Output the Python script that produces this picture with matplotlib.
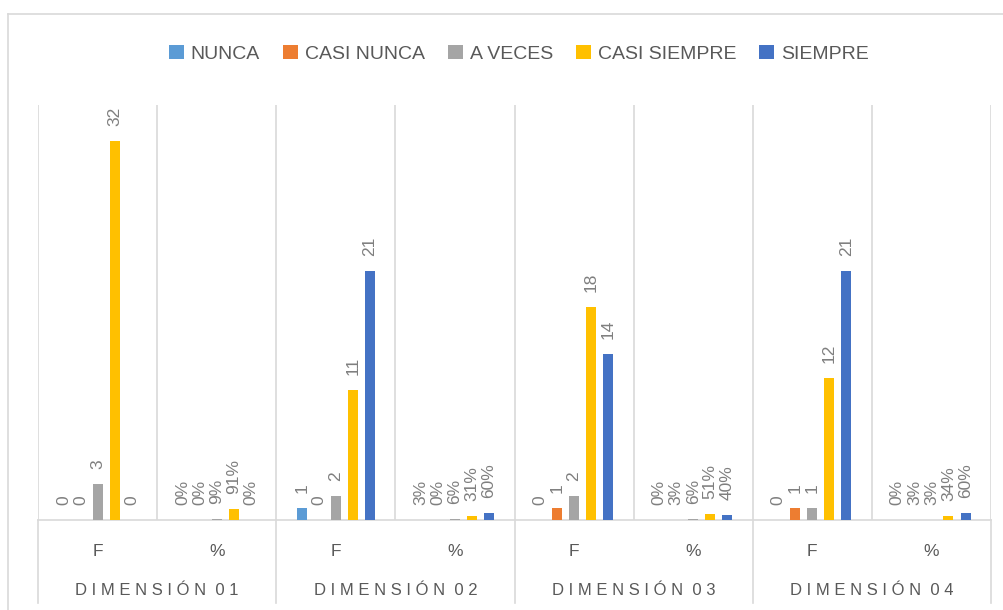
import numpy as np
import matplotlib
matplotlib.use("Agg")
import matplotlib.pyplot as plt
from matplotlib.lines import Line2D
from matplotlib.patches import Patch

plt.rcParams["font.family"] = "Liberation Sans"

# Chart data
categories = ["F", "%", "F", "%", "F", "%", "F", "%"]
dimensions = ["DIMENSIÓN 01", "DIMENSIÓN 02", "DIMENSIÓN 03", "DIMENSIÓN 04"]
series_names = ["NUNCA", "CASI NUNCA", "A VECES", "CASI SIEMPRE", "SIEMPRE"]
nunca = [0, 0.00, 1, 0.03, 0, 0.00, 0, 0.00]
casi_nunca = [0, 0.00, 0, 0.00, 1, 0.03, 1, 0.03]
a_veces = [3, 0.09, 2, 0.06, 2, 0.06, 1, 0.03]
casi_siempre = [32, 0.91, 11, 0.31, 18, 0.51, 12, 0.34]
siempre = [0, 0.00, 21, 0.60, 14, 0.40, 21, 0.60]

colors = ["#5B9BD5", "#ED7D31", "#A5A5A5", "#FFC000", "#4472C4"]
grid_col = "#D9D9D9"
label_col = "#7F7F7F"
text_col = "#595959"


def spaced(s):
    # Excel-style letter spacing for the outer axis labels
    return " ".join(s).replace("   ", "  ")


def main():
    fig = plt.figure(figsize=(10.04, 6.10), dpi=100)
    ax = fig.add_axes([38 / 1004, 1 - 520 / 610, (991 - 38) / 1004, (520 - 105) / 610])

    all_series = [nunca, casi_nunca, a_veces, casi_siempre, siempre]
    x = np.arange(len(categories))
    pitch = 0.143
    width = 0.084
    for i, (vals, col) in enumerate(zip(all_series, colors)):
        pos = x + (i - 2) * pitch
        ax.bar(pos, vals, width=width, color=col, zorder=3)
        for px, v, cat in zip(pos, vals, categories):
            lab = f"{v:.0%}" if cat == "%" else f"{v:g}"
            ax.annotate(lab, (px, v), xytext=(0, 15), textcoords="offset pixels",
                        rotation=90, ha="center", va="bottom",
                        fontsize=12.5, color=label_col)

    ax.set_xlim(-0.5, len(categories) - 0.5)
    ax.set_ylim(0, 35)

    # category separators above the baseline
    bounds = np.arange(len(categories) + 1) - 0.5
    for b in bounds:
        ax.axvline(b, color=grid_col, lw=1.2, zorder=1)
    ax.axhline(0, color=grid_col, lw=1.2, zorder=2, clip_on=False)

    # group separators continue below the baseline
    trans = ax.get_xaxis_transform()
    for b in bounds[::2]:
        ax.plot([b, b], [0, -0.2], color=grid_col, lw=1.2, transform=trans, clip_on=False)

    for xi, cat in zip(x, categories):
        ax.text(xi, -0.0747, cat, transform=trans, ha="center", va="center",
                fontsize=12.5, color=text_col)
    for gi, dim in enumerate(dimensions):
        ax.text(2 * gi + 0.5, -0.171, spaced(dim), transform=trans, ha="center",
                va="center", fontsize=12, color=text_col)

    for sp in ax.spines.values():
        sp.set_visible(False)
    ax.set_xticks([])
    ax.set_yticks([])

    # chart outer border (top and left visible)
    fig.add_artist(Line2D([8 / 1004, 1.0], [1 - 14 / 610, 1 - 14 / 610], color=grid_col, lw=1.2))
    fig.add_artist(Line2D([8 / 1004, 8 / 1004], [0.0, 1 - 14 / 610], color=grid_col, lw=1.2))

    handles = [Patch(facecolor=c, label=n) for c, n in zip(colors, series_names)]
    fig.legend(handles=handles, loc="center", bbox_to_anchor=(519 / 1004, 1 - 54 / 610),
               ncol=5, frameon=False, fontsize=14, handlelength=0.75, handleheight=0.75,
               handletextpad=0.35, columnspacing=1.2, labelcolor=text_col)

    fig.savefig("out.png", dpi=100)
    plt.close(fig)


if __name__ == "__main__":
    main()
